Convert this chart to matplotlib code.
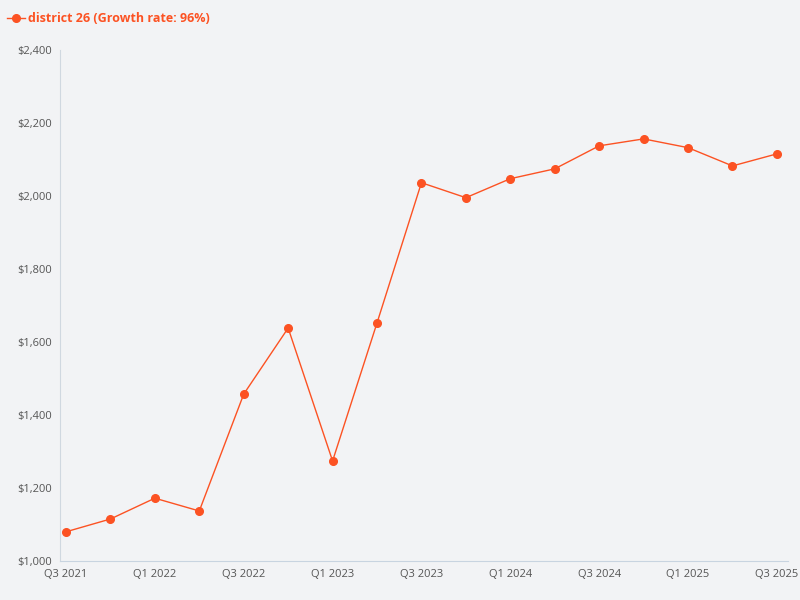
import matplotlib
matplotlib.use("Agg")
import matplotlib.pyplot as plt
from matplotlib.ticker import FuncFormatter

quarters = ["Q3 2021","Q4 2021","Q1 2022","Q2 2022","Q3 2022","Q4 2022","Q1 2023","Q2 2023",
            "Q3 2023","Q4 2023","Q1 2024","Q2 2024","Q3 2024","Q4 2024","Q1 2025","Q2 2025","Q3 2025"]
values = [1080,1115,1172,1137,1457,1638,1274,1652,2036,1995,2047,2074,2137,2156,2132,2082,2115]
series_name = "district 26 (Growth rate: 96%)"

plt.rcParams['font.family'] = ['Open Sans', 'DejaVu Sans']
bg = "#f2f3f5"
c = "#fc5223"
fig = plt.figure(figsize=(8, 6), dpi=100, facecolor=bg)
ax = fig.add_axes([0.075, 0.065, 0.91, 0.852], facecolor=bg)
x = list(range(len(quarters)))
ax.plot(x, values, color=c, lw=1, marker='o', ms=5.5, label=series_name)
ax.set_xlim(-0.135, len(quarters) - 1 + 0.25)
ax.set_ylim(1000, 2400)
ax.set_yticks(range(1000, 2401, 200))
ax.yaxis.set_major_formatter(FuncFormatter(lambda v, p: f"${v:,.0f}"))
ax.set_xticks(x[::2])
ax.set_xticklabels(quarters[::2])
for s in ['top', 'right']:
    ax.spines[s].set_visible(False)
ax.spines['left'].set_color('#d0d8e0')
ax.spines['bottom'].set_color('#c8d4e0')
ax.tick_params(colors='#555555', labelsize=8, length=0, pad=6)
leg = ax.legend(loc='upper left', bbox_to_anchor=(-0.088, 1.095), frameon=False,
                handlelength=1.4, handletextpad=0.3, fontsize=9)
for t in leg.get_texts():
    t.set_color(c); t.set_fontweight('bold')
fig.savefig("out.png", facecolor=bg)
